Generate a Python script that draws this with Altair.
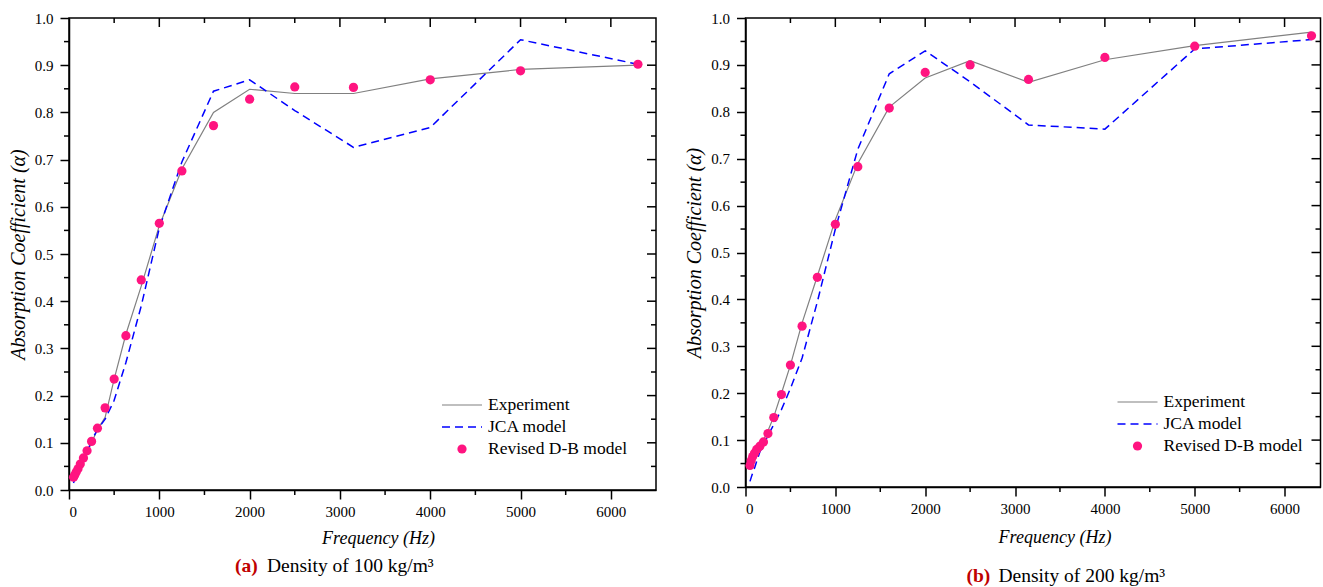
import altair as alt
import pandas as pd

freq = [50, 63, 80, 100, 125, 160, 200, 250, 315, 400, 500, 630, 800,
        1000, 1250, 1600, 2000, 2500, 3150, 4000, 5000, 6300]

# (a) density 100 kg/m3
exp_a = [0.022, 0.028, 0.035, 0.043, 0.053, 0.066, 0.080, 0.100, 0.128, 0.154, 0.235, 0.330, 0.432,
         0.560, 0.680, 0.800, 0.849, 0.840, 0.840, 0.871, 0.891, 0.900]
jca_a = [0.015, 0.022, 0.030, 0.040, 0.050, 0.065, 0.080, 0.105, 0.128, 0.150, 0.190, 0.270, 0.390,
         0.555, 0.695, 0.845, 0.869, 0.804, 0.726, 0.768, 0.954, 0.902]
db_a = [0.027, 0.032, 0.038, 0.045, 0.055, 0.068, 0.083, 0.103, 0.131, 0.174, 0.235, 0.327, 0.445,
        0.565, 0.676, 0.772, 0.828, 0.854, 0.853, 0.869, 0.888, 0.902]

# (b) density 200 kg/m3
exp_b = [0.050, 0.057, 0.065, 0.072, 0.080, 0.090, 0.100, 0.120, 0.150, 0.200, 0.260, 0.350, 0.450,
         0.570, 0.690, 0.810, 0.872, 0.909, 0.863, 0.911, 0.941, 0.970]
jca_b = [0.012, 0.020, 0.030, 0.040, 0.055, 0.075, 0.090, 0.110, 0.133, 0.165, 0.210, 0.275, 0.395,
         0.550, 0.720, 0.881, 0.930, 0.864, 0.772, 0.763, 0.934, 0.954]
db_b = [0.046, 0.056, 0.065, 0.072, 0.080, 0.087, 0.096, 0.114, 0.148, 0.197, 0.260, 0.343, 0.447,
        0.560, 0.683, 0.808, 0.884, 0.900, 0.869, 0.916, 0.940, 0.962]

x_major = [0, 1000, 2000, 3000, 4000, 5000, 6000]
x_minor = [500, 1500, 2500, 3500, 4500, 5500, 6500]
y_major = [round(i * 0.1, 1) for i in range(11)]
y_minor = [round(0.05 + i * 0.1, 2) for i in range(10)]

legend_labels = ["Experiment", "JCA model", "Revised D-B model"]
caption_tags = ["(a)", "(b)"]
caption_texts = ["Density of 100 kg/m\u00b3", "Density of 200 kg/m\u00b3"]

FONT = "Liberation Serif"
GRAY = "#808080"
BLUE = "#0000FF"
PINK = "#FF1480"
RED = "#C00000"


def panel(exp, jca, db, W, H, xmax, tag, text, cap_xy, leg_xy, xtitle_y):
    df = pd.DataFrame({"f": freq, "exp": exp, "jca": jca, "db": db})
    xs = alt.Scale(domain=[0, xmax], nice=False, zero=False)
    ys = alt.Scale(domain=[0, 1], nice=False)
    common = dict(labelFont=FONT, titleFont=FONT, labelFontSize=15, labelColor="black",
                  titleFontStyle="italic", titleFontWeight="normal", titleColor="black",
                  grid=False)
    xax = alt.Axis(values=x_major, format="d", tickSize=9, labelPadding=5,
                   title="Frequency (Hz)", titleX=309, titleY=xtitle_y,
                   titleBaseline="middle", titleAlign="center", titleFontSize=18, **common)
    yax = alt.Axis(values=y_major, format=".1f", tickSize=9, labelPadding=7,
                   title="Absorption Coefficient (\u03b1)", titlePadding=6, titleFontSize=20,
                   **common)
    X = lambda fld: alt.X(fld, scale=xs, axis=xax, title="Frequency (Hz)")
    Y = lambda fld: alt.Y(fld, scale=ys, axis=yax, title="Absorption Coefficient (\u03b1)")

    base = alt.Chart(df)
    exp_line = base.mark_line(color=GRAY, strokeWidth=1.2).encode(x=X("f:Q"), y=Y("exp:Q"))
    jca_line = base.mark_line(color=BLUE, strokeWidth=1.5, strokeDash=[8, 5]).encode(
        x=X("f:Q"), y=Y("jca:Q"))
    pts = base.mark_circle(size=85, color=PINK, opacity=1).encode(x=X("f:Q"), y=Y("db:Q"))

    xmn = pd.DataFrame({"t": [v for v in x_minor if v < xmax]})
    xmj = pd.DataFrame({"t": [v for v in x_major if 0 < v < xmax]})
    ymn = pd.DataFrame({"t": y_minor})
    ymj = pd.DataFrame({"t": [v for v in y_major if 0 < v < 1]})
    rk = dict(color="black", strokeWidth=1.5)
    ticks = [
        alt.Chart(xmn).mark_rule(**rk).encode(x=X("t:Q"), y=alt.value(H), y2=alt.value(H + 5)),
        alt.Chart(xmn).mark_rule(**rk).encode(x=X("t:Q"), y=alt.value(0), y2=alt.value(5)),
        alt.Chart(xmj).mark_rule(**rk).encode(x=X("t:Q"), y=alt.value(0), y2=alt.value(9)),
        alt.Chart(ymn).mark_rule(**rk).encode(y=Y("t:Q"), x=alt.value(-5), x2=alt.value(0)),
        alt.Chart(ymn).mark_rule(**rk).encode(y=Y("t:Q"), x=alt.value(W - 5), x2=alt.value(W)),
        alt.Chart(ymj).mark_rule(**rk).encode(y=Y("t:Q"), x=alt.value(W - 9), x2=alt.value(W)),
    ]

    one = pd.DataFrame({"a": [0]})
    lx, ly = leg_xy
    legend = [
        alt.Chart(one).mark_rule(color=GRAY, strokeWidth=1.2).encode(
            x=alt.value(lx), x2=alt.value(lx + 40), y=alt.value(ly)),
        alt.Chart(one).mark_rule(color=BLUE, strokeWidth=1.5, strokeDash=[8, 5]).encode(
            x=alt.value(lx), x2=alt.value(lx + 40), y=alt.value(ly + 22)),
        alt.Chart(one).mark_circle(size=85, color=PINK, opacity=1).encode(
            x=alt.value(lx + 20), y=alt.value(ly + 44)),
    ]
    for i, lab in enumerate(legend_labels):
        legend.append(alt.Chart(one).mark_text(
            font=FONT, fontSize=17.5, align="left", baseline="middle", color="black").encode(
            x=alt.value(lx + 46), y=alt.value(ly + 22 * i), text=alt.value(lab)))

    cx, cy = cap_xy
    caption = [
        alt.Chart(one).mark_text(font=FONT, fontSize=19.5, fontWeight="bold", color=RED,
                                 align="left", baseline="middle").encode(
            x=alt.value(cx), y=alt.value(cy), text=alt.value(tag)),
        alt.Chart(one).mark_text(font=FONT, fontSize=19.5, color="black",
                                 align="left", baseline="middle").encode(
            x=alt.value(cx + 32), y=alt.value(cy), text=alt.value(text)),
    ]

    return alt.layer(exp_line, jca_line, pts, *ticks, *legend, *caption).properties(
        width=W, height=H)


left = panel(exp_a, jca_a, db_a, 587, 472, 6500, caption_tags[0], caption_texts[0],
             (166, 548), (373, 387), 48)
right = panel(exp_b, jca_b, db_b, 575, 469, 6400, caption_tags[1], caption_texts[1],
              (221, 558), (372, 384), 50)

chart = alt.hconcat(left, right, spacing=25.5).properties(
    padding={"left": 7, "top": 10, "right": 0, "bottom": 0},
    background="white"
).configure(font=FONT).configure_view(stroke="black", strokeWidth=1.5).configure_axis(
    labelFont=FONT, labelFontSize=15, labelColor="black",
    titleFont=FONT, titleFontStyle="italic", titleFontWeight="normal",
    titleColor="black", domainColor="black", domainWidth=1.5, tickColor="black",
    tickWidth=1.5
)

chart.save("out.html", embed_options={"renderer": "svg", "actions": False})
